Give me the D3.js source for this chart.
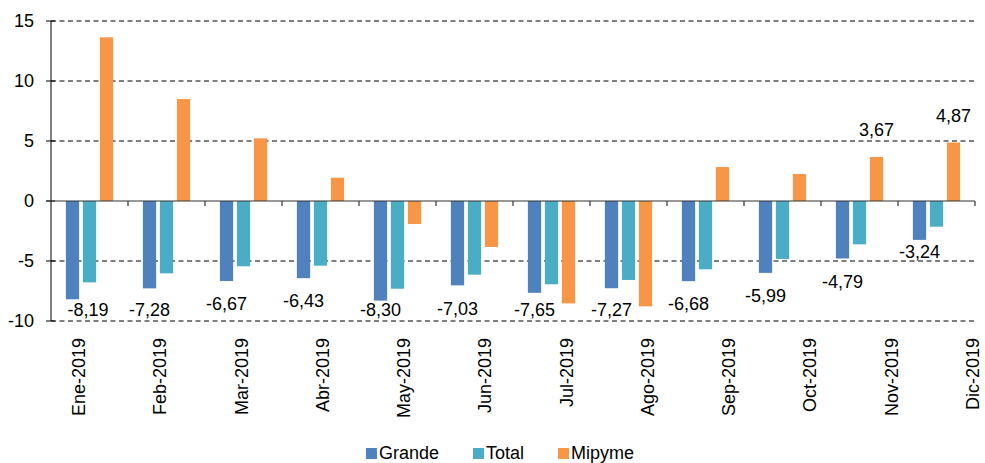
<!DOCTYPE html>
<html>
<head>
<meta charset="utf-8">
<script src="https://cdn.jsdelivr.net/npm/d3@7"></script>
<style>
  body { margin: 0; background: #fff; }
  text { font-family: "Liberation Sans", Arial, sans-serif; fill: #000; }
</style>
</head>
<body>
<svg></svg>
<script>
let months = ["Ene-2019", "Feb-2019", "Mar-2019", "Abr-2019", "May-2019", "Jun-2019",
  "Jul-2019", "Ago-2019", "Sep-2019", "Oct-2019", "Nov-2019", "Dic-2019"];
let seriesNames = ["Grande", "Total", "Mipyme"];

let grande = [-8.19, -7.28, -6.67, -6.43, -8.30, -7.03, -7.65, -7.27, -6.68, -5.99, -4.79, -3.24];
let total = [-6.78, -6.03, -5.44, -5.39, -7.31, -6.14, -6.94, -6.58, -5.69, -4.83, -3.61, -2.14];
let mipyme = [13.64, 8.50, 5.22, 1.94, -1.92, -3.83, -8.53, -8.78, 2.83, 2.25, 3.67, 4.87];

let yTicks = [-10, -5, 0, 5, 10, 15];
let mipymeLabeled = ["Nov-2019", "Dic-2019"];

let colors = { Grande: "#4f81bd", Total: "#4bacc6", Mipyme: "#f79646" };

let width = 985;
let height = 463;
let plotLeft = 51;
let plotRight = 975;
let plotTop = 21;
let plotBottom = 321;

let svg = d3.select("svg").attr("width", width).attr("height", height);

let locale = d3.formatLocale({ decimal: ",", thousands: ".", grouping: [3], currency: ["", ""], minus: "-" });
let fmt = locale.format(".2f");
let fmtTick = locale.format("d");

let values = months.map((m, i) => ({
  month: m,
  Grande: grande[i],
  Total: total[i],
  Mipyme: mipyme[i],
}));

let xScale = d3.scaleBand().domain(months).range([plotLeft, plotRight]).padding(0);
let xInner = d3
  .scaleBand()
  .domain(seriesNames)
  .range([0, xScale.bandwidth()])
  .paddingInner(0.22)
  .paddingOuter(0.875);
let yScale = d3.scaleLinear().domain([-10, 15]).range([plotBottom, plotTop]);
// labels under the axis are spread a bit wider than the categories
let labelScale = d3.scalePoint().domain(months).range([79, 973]);

let gridVals = yTicks.filter((t) => t !== 0);

// gridlines
svg
  .append("g")
  .selectAll("line")
  .data(gridVals)
  .enter()
  .append("line")
  .attr("x1", plotLeft)
  .attr("x2", plotRight)
  .attr("y1", (d) => yScale(d))
  .attr("y2", (d) => yScale(d))
  .attr("stroke", "#000")
  .attr("stroke-width", 1)
  .attr("stroke-dasharray", "5,3.5");

// bars
let groups = svg
  .append("g")
  .selectAll("g")
  .data(values)
  .enter()
  .append("g")
  .attr("transform", (d) => "translate(" + xScale(d.month) + ",0)");

groups
  .selectAll("rect")
  .data((d) => seriesNames.map((s) => ({ key: s, value: d[s] })))
  .enter()
  .append("rect")
  .attr("x", (d) => xInner(d.key))
  .attr("width", xInner.bandwidth())
  .attr("y", (d) => yScale(Math.max(0, d.value)))
  .attr("height", (d) => Math.abs(yScale(d.value) - yScale(0)))
  .attr("fill", (d) => colors[d.key]);

// y axis
let yAxis = d3.axisLeft(yScale).tickValues(yTicks).tickFormat(fmtTick).tickSize(0).tickPadding(17);
let yg = svg.append("g").attr("transform", "translate(" + plotLeft + ",0)").call(yAxis);
yg.select(".domain").remove();
yg.selectAll("text").style("font-size", "18px").attr("fill", "#000");
yg.append("line")
  .attr("y1", plotTop)
  .attr("y2", plotBottom)
  .attr("stroke", "#000");
yg.selectAll(".cross")
  .data(yTicks)
  .enter()
  .append("line")
  .attr("x1", -5)
  .attr("x2", 4)
  .attr("y1", (d) => yScale(d))
  .attr("y2", (d) => yScale(d))
  .attr("stroke", "#000");

// zero line with category ticks
let zero = svg.append("g").attr("transform", "translate(0," + yScale(0) + ")");
zero.append("line").attr("x1", plotLeft - 5).attr("x2", plotRight).attr("stroke", "#333").attr("stroke-width", 1.2);
zero
  .selectAll(".tk")
  .data(months)
  .enter()
  .append("line")
  .attr("x1", (d) => xScale(d) + xScale.bandwidth())
  .attr("x2", (d) => xScale(d) + xScale.bandwidth())
  .attr("y1", 0)
  .attr("y2", 5)
  .attr("stroke", "#333")
  .attr("stroke-width", 1.2);

// month labels
svg
  .append("g")
  .selectAll("text")
  .data(months)
  .enter()
  .append("text")
  .attr("transform", (d) => "translate(" + (labelScale(d) + 6) + ",338) rotate(-90)")
  .attr("text-anchor", "end")
  .style("font-size", "18px")
  .text((d) => d);

// keep a label off the dashed gridlines
let labelY = (d) => {
  let y = Math.min(yScale(d.Grande) + 23, 310);
  gridVals.forEach((g) => {
    if (Math.abs(y - yScale(g)) < 6) y = yScale(g) - 9;
  });
  return y;
};

// data labels for Grande
svg
  .append("g")
  .selectAll("text")
  .data(values)
  .enter()
  .append("text")
  .attr("x", (d) => Math.max(xScale(d.month) + xInner("Grande") + xInner.bandwidth() / 2, plotLeft + 37))
  .attr("y", labelY)
  .attr("dy", "0.35em")
  .attr("text-anchor", "middle")
  .style("font-size", "18px")
  .text((d) => fmt(d.Grande));

// data labels for Mipyme (last two months)
svg
  .append("g")
  .selectAll("text")
  .data(values.filter((d) => mipymeLabeled.includes(d.month)))
  .enter()
  .append("text")
  .attr("x", (d) => xScale(d.month) + xInner("Mipyme") + xInner.bandwidth() / 2)
  .attr("y", (d) => yScale(d.Mipyme) - 27)
  .attr("dy", "0.35em")
  .attr("text-anchor", "middle")
  .style("font-size", "18px")
  .text((d) => fmt(d.Mipyme));

// legend
let legend = svg.append("g");
let cursor = 0;
seriesNames.forEach((s) => {
  let item = legend.append("g").attr("transform", "translate(" + cursor + ",0)");
  item.append("rect").attr("x", 0).attr("y", -11).attr("width", 11).attr("height", 11).attr("fill", colors[s]);
  let t = item.append("text").attr("x", 13).attr("y", 0).style("font-size", "18px").text(s);
  cursor += 13 + t.node().getComputedTextLength() + 34;
});
let legendWidth = cursor - 34;
legend.attr("transform", "translate(" + (500 - legendWidth / 2) + ",459)");
</script>
</body>
</html>
